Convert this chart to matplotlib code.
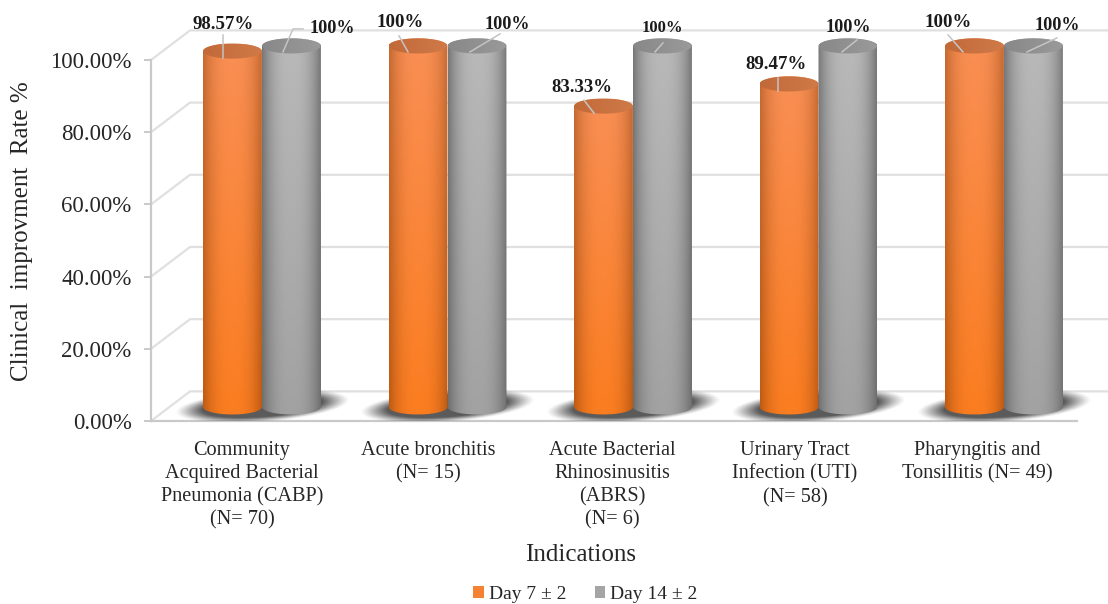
import numpy as np
import matplotlib
matplotlib.use("Agg")
import matplotlib.pyplot as plt
from matplotlib.patches import Patch
from matplotlib.path import Path
from matplotlib.transforms import IdentityTransform

categories = [
    "Community\nAcquired Bacterial\nPneumonia (CABP)\n(N= 70)",
    "Acute bronchitis\n(N= 15)",
    "Acute Bacterial\nRhinosinusitis\n(ABRS)\n(N= 6)",
    "Urinary Tract\nInfection (UTI)\n(N= 58)",
    "Pharyngitis and\nTonsillitis (N= 49)",
]
day7 = [98.57, 100, 83.33, 89.47, 100]
day14 = [100, 100, 100, 100, 100]
day7_labels = ["98.57%", "100%", "83.33%", "89.47%", "100%"]
day14_labels = ["100%", "100%", "100%", "100%", "100%"]
y_ticks = [0, 20, 40, 60, 80, 100]

# category labels sit a bit left of their cylinders (pixels)
label_shift = [-20, -19.5, -21, -23.5, -27]

# label position and leader line, in pixels from the centre of each bar top
day7_text_off = [(-9, 27), (-18, 23), (-21.5, 19), (-13, 19), (-26.5, 23)]
day14_text_off = [(40.5, 17), (30, 21), (0, 18), (0, 18), (24, 20)]
day7_leaders = [
    [(-9.5, 16), (-9.5, -7)],
    [(-19, 10), (-10, -6)],
    [(-19.5, 6), (-9.5, -7)],
    [(-11, 6), (-11, -7)],
    [(-26.5, 11), (-11.5, -6)],
]
day14_leaders = [
    [(-8.5, -6), (1.5, 17), (11.5, 17)],
    [(-7, -6), (23, 12)],
    [(0.5, 3), (-7.5, -6)],
    [(9, 6), (-6, -6)],
    [(-6.5, -6), (23.5, 8)],
]

W, H = 1108, 604
PX_X = 185.5   # pixels per category
PX_Y = 3.61    # pixels per percent
BAR_W = 59 / PX_X
BASE = 3.9     # cylinders stand a little behind the front edge of the floor
ELL_H = 2.1    # half height of the cylinder end ellipse
DEPTH_X = 39 / PX_X
DEPTH_Y = 8.2
GRID = "#e0e0e0"
AXIS = "#c9c9c9"
TEXT = "#262626"

plt.rcParams["font.family"] = ["Liberation Serif", "DejaVu Serif"]

fig = plt.figure(figsize=(W / 100, H / 100), dpi=100)
ax = fig.add_axes([151 / W, (H - 421) / H, (W - 151) / W, 421 / H])


def hexrgb(c):
    return np.array(matplotlib.colors.to_rgb(c))


def cylinder(cx, value, edge_top, mid_top, edge_bot, mid_bot, lid_l, lid_r):
    half = BAR_W / 2
    top = BASE + value
    t = np.linspace(0, np.pi, 200)
    xs = cx - half * np.cos(t)
    # outline: lower half of the base ellipse, then back over the upper half of the lid
    verts = list(zip(xs, BASE - ELL_H * np.sin(t))) + list(zip(xs[::-1], top + ELL_H * np.sin(t[::-1])))
    outline = Path(verts + [verts[0]])

    u = np.linspace(-1, 1, 120)
    shade = (1 - np.abs(u) ** 2.6)[None, :, None]
    v = np.linspace(0, 1, 100)[:, None, None]
    edge = hexrgb(edge_top) * (1 - v) + hexrgb(edge_bot) * v
    mid = hexrgb(mid_top) * (1 - v) + hexrgb(mid_bot) * v
    img = edge + (mid - edge) * shade
    im = ax.imshow(img, extent=(cx - half, cx + half, BASE - ELL_H, top + ELL_H),
                   aspect="auto", origin="upper", zorder=4, interpolation="bilinear")
    im.set_clip_path(outline, ax.transData)

    # lid of the cylinder
    ang = np.linspace(0, 2 * np.pi, 200)
    lid = Path(list(zip(cx + half * 0.985 * np.cos(ang), top + ELL_H * np.sin(ang))))
    lid_img = np.linspace(hexrgb(lid_l), hexrgb(lid_r), 60)[None, :, :]
    im2 = ax.imshow(lid_img, extent=(cx - half, cx + half, top - ELL_H, top + ELL_H),
                    aspect="auto", zorder=4.1, interpolation="bilinear")
    im2.set_clip_path(lid, ax.transData)


def floor_shadow(cx):
    # soft slanted shadow under a pair of cylinders
    half_w = 0.47
    half_h = 4.4
    centre = 4.1
    xs = np.linspace(-half_w, half_w, 220)
    ys = np.linspace(-half_h * 1.6, half_h * 1.6, 90)
    gx, gy = np.meshgrid(xs, ys)
    skew = gy - 3.6 * gx
    r = (gx / half_w) ** 2 + (skew / half_h) ** 2
    alpha = np.clip((1 - r) * 1.9, 0, 1) ** 1.3 * 0.85
    rgba = np.zeros(gx.shape + (4,))
    rgba[..., :3] = hexrgb("#3d3d3d")
    rgba[..., 3] = alpha
    ax.imshow(rgba, extent=(cx - half_w, cx + half_w, centre - half_h * 1.6, centre + half_h * 1.6),
              aspect="auto", origin="lower", zorder=3, interpolation="bilinear")


x = np.arange(len(categories))
for i in x:
    floor_shadow(i)
    cylinder(i - BAR_W / 2, day7[i], "#c46a33", "#f98f55", "#bd5a12", "#fb7d20", "#c2693a", "#d07a48")
    cylinder(i + BAR_W / 2, day14[i], "#777777", "#b9b9b9", "#6e6e6e", "#a2a2a2", "#888888", "#9a9a9a")

ax.set_xlim(-111 / PX_X, (W - 262) / PX_X)
ax.set_ylim(0, 421 / PX_Y)

# back wall gridlines and the side wall diagonals
for tick in y_ticks:
    ax.plot([ax.get_xlim()[0], ax.get_xlim()[0] + DEPTH_X, ax.get_xlim()[1]],
            [tick, tick + DEPTH_Y, tick + DEPTH_Y],
            color=GRID, lw=1.6, zorder=1, clip_on=False)

for side in ["top", "right"]:
    ax.spines[side].set_visible(False)
ax.spines["left"].set_bounds(0, 100)
ax.spines["left"].set_color(AXIS)
ax.spines["left"].set_linewidth(1.6)
ax.spines["bottom"].set_bounds(ax.get_xlim()[0], (1077 - 262) / PX_X)
ax.spines["bottom"].set_color(AXIS)
ax.spines["bottom"].set_linewidth(1.6)

ax.set_yticks(y_ticks)
ax.set_yticklabels(["%.2f%%" % t for t in y_ticks], fontsize=16.5, color=TEXT)
ax.tick_params(axis="y", length=5, width=1.4, color=AXIS, pad=9)
ax.set_xticks(x + np.array(label_shift) / PX_X)
ax.set_xticklabels(categories, fontsize=14.6, color=TEXT, linespacing=1.29)
ax.tick_params(axis="x", length=0, pad=14.5)

fig.text(22 / W, 1 - 231 / H, "Clinical  improvment  Rate %", rotation=90, fontsize=18,
         color=TEXT, ha="center", va="center")
fig.text(581 / W, 1 - 555 / H, "Indications", fontsize=18, color=TEXT, ha="center", va="center")

# data labels and their leader lines
fig.canvas.draw()
to_px = ax.transData.transform
for i in x:
    for cx, val, lab, off, leader, size in [
        (i - BAR_W / 2, day7[i], day7_labels[i], day7_text_off[i], day7_leaders[i], 13.6),
        (i + BAR_W / 2, day14[i], day14_labels[i], day14_text_off[i], day14_leaders[i], 13.1 if i != 2 else 12),
    ]:
        px, py = to_px((cx, BASE + val))
        pts = np.array(leader) + (px, py)
        ax.plot(pts[:, 0], pts[:, 1], color="#c4c4c4", lw=1.1, zorder=5,
                transform=IdentityTransform(), clip_on=False)
        ax.annotate(lab, xy=(cx, BASE + val), xytext=off, textcoords="offset pixels",
                    ha="center", va="center", fontsize=size, fontweight="bold",
                    color="#1a1a1a", zorder=6, annotation_clip=False)

handles = [Patch(facecolor="#f58233", label="Day 7 ± 2"), Patch(facecolor="#a5a5a5", label="Day 14 ± 2")]
fig.legend(handles=handles, loc="center", bbox_to_anchor=(585.5 / W, 1 - 594.5 / H), ncol=2, frameon=False,
           fontsize=14, handlelength=0.55, handleheight=0.55, handletextpad=0.25, columnspacing=1.46,
           labelcolor=TEXT)

fig.savefig("out.png", dpi=100)
